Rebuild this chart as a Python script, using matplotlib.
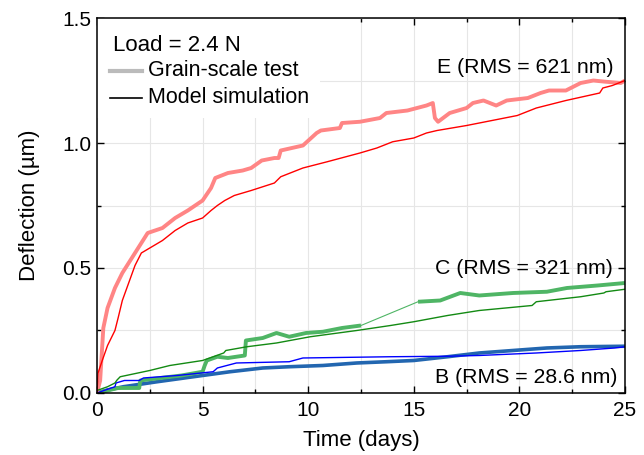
import matplotlib
matplotlib.use("Agg")
import matplotlib.pyplot as plt
from matplotlib.lines import Line2D
from matplotlib.patches import Rectangle
from matplotlib.ticker import MultipleLocator, FormatStrFormatter

plt.rcParams['font.family'] = ['Liberation Sans', 'DejaVu Sans']

# ---- data ----
e_test_t = [0, 0.15, 0.3, 0.5, 0.85, 1.2, 1.5, 1.95, 2.4, 3.1, 3.7, 4.3, 5.0, 5.4, 5.6, 6.2, 6.9, 7.3, 7.8,
            8.4, 8.6, 8.7, 9.75, 10.4, 10.6, 11.5, 11.6, 12.45, 13.4, 13.7, 14.7, 15.6, 15.9, 16.0, 16.15,
            16.7, 17.5, 17.8, 18.3, 18.9, 19.4, 20.4, 21.0, 21.4, 22.2, 22.9, 23.5, 24.1, 24.8, 25.0]
e_test_y = [0.0, 0.05, 0.26, 0.34, 0.42, 0.48, 0.52, 0.58, 0.64, 0.66, 0.70, 0.73, 0.77, 0.82, 0.86, 0.88, 0.89, 0.90, 0.93,
            0.94, 0.94, 0.97, 0.99, 1.04, 1.05, 1.06, 1.08, 1.085, 1.10, 1.12, 1.13, 1.15, 1.16, 1.10, 1.085,
            1.12, 1.14, 1.16, 1.17, 1.15, 1.17, 1.18, 1.20, 1.21, 1.21, 1.24, 1.25, 1.245, 1.24, 1.25]

e_model_t = [0, 0.05, 0.25, 0.5, 0.85, 1.0, 1.2, 1.5, 1.8, 2.1, 2.6, 3.1, 3.7, 4.3, 5.0, 5.4, 5.7, 6.05, 6.5,
             7.3, 8.4, 8.7, 9.75, 10.9, 12.45, 13.25, 14.0, 15.0, 15.6, 16.1, 17.5, 19.9, 20.8, 22.2, 23.8,
             23.95, 24.4, 25.0]
e_model_y = [0.0, 0.08, 0.13, 0.19, 0.25, 0.30, 0.37, 0.44, 0.51, 0.56, 0.585, 0.61, 0.65, 0.68, 0.70, 0.73, 0.75, 0.77, 0.79,
             0.81, 0.84, 0.865, 0.90, 0.925, 0.96, 0.98, 1.005, 1.02, 1.04, 1.05, 1.07, 1.11, 1.14, 1.17, 1.20,
             1.22, 1.23, 1.25]

c_test_t1 = [0, 0.5, 1.0, 1.5, 2.0, 2.05, 3.0, 4.0, 5.0, 5.1, 5.2, 5.7, 6.2, 7.0, 7.05, 7.85, 8.5, 9.1, 9.9,
             10.7, 11.6, 12.5]
c_test_y1 = [0.0, 0.01, 0.02, 0.02, 0.02, 0.05, 0.06, 0.07, 0.085, 0.11, 0.13, 0.145, 0.14, 0.15, 0.21, 0.22, 0.24, 0.225, 0.24,
             0.245, 0.26, 0.27]
c_test_t2 = [15.2, 16.25, 17.2, 18.1, 19.7, 21.3, 22.25, 23.7, 25.0]
c_test_y2 = [0.365, 0.37, 0.40, 0.39, 0.40, 0.405, 0.42, 0.43, 0.44]

c_model_t = [0, 0.5, 0.85, 0.95, 1.1, 2.5, 3.45, 5.0, 6.0, 6.1, 7.1, 8.5, 10.1, 12.3, 13.9, 15.0, 16.6, 18.1,
             20.6, 20.8, 22.9, 24.0, 24.1, 25.0]
c_model_y = [0.01, 0.025, 0.04, 0.052, 0.065, 0.09, 0.11, 0.13, 0.16, 0.17, 0.185, 0.20, 0.225, 0.25, 0.27, 0.285, 0.31, 0.33,
             0.35, 0.365, 0.385, 0.40, 0.405, 0.415]

b_test_t = [0, 0.5, 1.25, 2.85, 5.0, 6.3, 7.85, 9.1, 10.7, 12.3, 13.7, 15.0, 16.6, 18.1, 19.7, 21.3, 22.9, 25.0]
b_test_y = [0.0, 0.012, 0.025, 0.045, 0.07, 0.085, 0.10, 0.105, 0.11, 0.12, 0.125, 0.13, 0.145, 0.16, 0.17, 0.18, 0.185, 0.187]

b_model_t = [0, 0.4, 0.85, 0.9, 1.3, 2.0, 2.2, 3.8, 5.5, 5.7, 6.6, 9.1, 9.75, 13.9, 16.6, 18.1, 20.8, 22.9, 24.5, 25.0]
b_model_y = [0.0, 0.012, 0.025, 0.04, 0.05, 0.05, 0.06, 0.07, 0.085, 0.10, 0.12, 0.125, 0.14, 0.145, 0.147, 0.15, 0.16, 0.17, 0.18, 0.185]

x_ticks = [0, 5, 10, 15, 20, 25]
y_ticks = [0.0, 0.5, 1.0, 1.5]

labels = {"E": "E (RMS = 621 nm)", "C": "C (RMS = 321 nm)", "B": "B (RMS = 28.6 nm)"}
legend_title = "Load = 2.4 N"
legend_labels = ["Grain-scale test", "Model simulation"]

# ---- figure ----
fig = plt.figure(figsize=(6.44, 4.55), dpi=100)
ax = fig.add_axes([0.1506, 0.1363, 0.8199, 0.8241])

col_e_test, col_e_model = "#ff8585", "#ff0000"
col_c_test, col_c_model = "#4fb565", "#138a13"
col_b_test, col_b_model = "#2266b0", "#0000ff"

tw = 2.8
ax.plot(b_test_t, b_test_y, color=col_b_test, lw=2.6, solid_capstyle="butt", zorder=2)
ax.plot(c_test_t1, c_test_y1, color=col_c_test, lw=tw, solid_capstyle="butt", zorder=2)
ax.plot([c_test_t1[-1], c_test_t2[0]], [c_test_y1[-1], c_test_y2[0]], color=col_c_test, lw=0.8, zorder=2)
ax.plot(c_test_t2, c_test_y2, color=col_c_test, lw=tw, solid_capstyle="butt", zorder=2)
ax.plot(e_test_t, e_test_y, color=col_e_test, lw=tw, solid_capstyle="butt", zorder=2)

ax.plot(b_model_t, b_model_y, color=col_b_model, lw=1.0, zorder=3)
ax.plot(c_model_t, c_model_y, color=col_c_model, lw=1.0, zorder=3)
ax.plot(e_model_t, e_model_y, color=col_e_model, lw=1.0, zorder=3)

ax.set_xlim(0, 25)
ax.set_ylim(0, 1.5)
ax.set_xticks(x_ticks)
ax.set_yticks(y_ticks)
ax.xaxis.set_minor_locator(MultipleLocator(2.5))
ax.yaxis.set_minor_locator(MultipleLocator(0.25))
ax.yaxis.set_major_formatter(FormatStrFormatter("%.1f"))
ax.tick_params(which="both", direction="in", top=True, right=True, labelsize=15)
ax.tick_params(which="major", length=5, width=1)
ax.tick_params(which="minor", length=3, width=1)
ax.tick_params(axis="x", pad=6)
ax.tick_params(axis="y", pad=4)
for s in ax.spines.values():
    s.set_linewidth(1.1)
    s.set_zorder(10)
ax.grid(True, which="both", color="#e6e6e6", lw=0.8, zorder=0)
ax.set_axisbelow(True)

ax.set_xlabel("Time (days)", fontsize=16, labelpad=7)
ax.set_ylabel("Deflection (\u00b5m)", fontsize=16, labelpad=16)

# legend block (white box, title and two handles)
ax.add_patch(Rectangle((0, 0.733), 0.422, 0.267, transform=ax.transAxes,
                       facecolor="white", edgecolor="none", zorder=1))
ax.text(0.0303, 0.928, legend_title, transform=ax.transAxes, ha="left", va="center",
        fontsize=16, zorder=6)
ax.add_line(Line2D([0.0246, 0.0852], [0.859, 0.859], transform=ax.transAxes,
                   color="#bbbbbb", lw=3, zorder=6))
ax.add_line(Line2D([0.0246, 0.0852], [0.787, 0.787], transform=ax.transAxes,
                   color="black", lw=1.2, zorder=6))
ax.text(0.0966, 0.859, legend_labels[0], transform=ax.transAxes, ha="left", va="center",
        fontsize=15.5, zorder=6)
ax.text(0.0966, 0.787, legend_labels[1], transform=ax.transAxes, ha="left", va="center",
        fontsize=15.5, zorder=6)

ax.text(0.978, 0.867, labels["E"], transform=ax.transAxes, ha="right", va="center", fontsize=15.3, zorder=6)
ax.text(0.977, 0.333, labels["C"], transform=ax.transAxes, ha="right", va="center", fontsize=15.3, zorder=6)
ax.text(0.985, 0.040, labels["B"], transform=ax.transAxes, ha="right", va="center", fontsize=15.3, zorder=6)

fig.savefig("out.png", dpi=100)
